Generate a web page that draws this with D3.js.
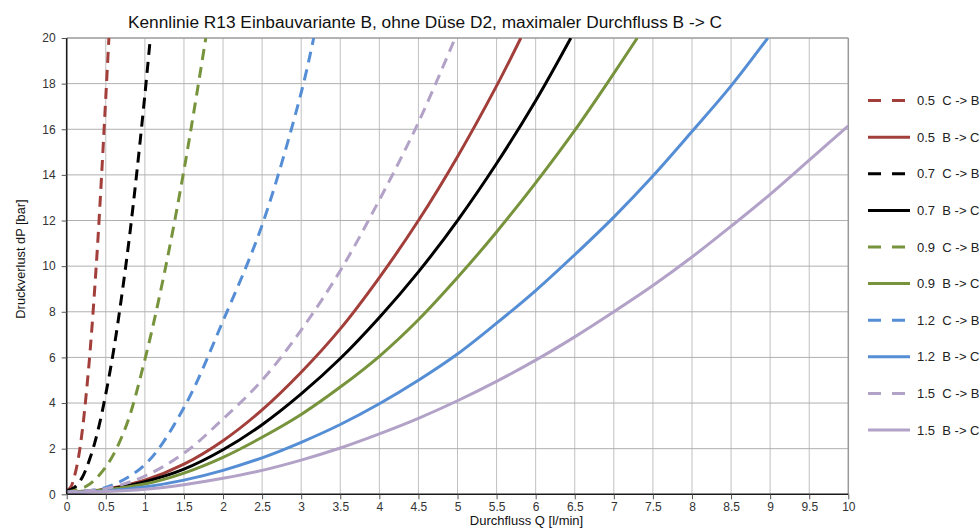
<!DOCTYPE html>
<html>
<head>
<meta charset="utf-8">
<script src="https://cdn.jsdelivr.net/npm/d3@7"></script>
<style>
  body { margin: 0; background: #fff; }
  svg { display: block; font-family: "Liberation Sans", Arial, sans-serif; }
</style>
</head>
<body>
<svg id="chart" width="980" height="528"></svg>
<script>
// ---- data ----
const chartTitle = "Kennlinie R13 Einbauvariante B, ohne Düse D2, maximaler Durchfluss B -> C";
const xLabel = "Durchfluss Q [l/min]";
const yLabel = "Druckverlust dP [bar]";
const xTicks = [0,0.5,1,1.5,2,2.5,3,3.5,4,4.5,5,5.5,6,6.5,7,7.5,8,8.5,9,9.5,10];
const yTicks = [0,2,4,6,8,10,12,14,16,18,20];

const seriesNames = ["0.5  C -> B","0.5  B -> C","0.7  C -> B","0.7  B -> C","0.9  C -> B","0.9  B -> C","1.2  C -> B","1.2  B -> C","1.5  C -> B","1.5  B -> C"];
const seriesDashed = [true,false,true,false,true,false,true,false,true,false];
const seriesColors = ["#A23F3B","#A23F3B","#000000","#000000","#77933C","#77933C","#558ED5","#558ED5","#B3A2C7","#B3A2C7"];

// 0.5 C -> B
const q05CB = [0,0.05,0.1,0.15,0.2,0.25,0.3,0.35,0.4,0.45,0.5,0.54];
const p05CB = [0.15,0.3,0.8,1.6,2.8,4.4,6.3,8.6,11.2,14.2,17.4,20];
// 0.5 B -> C
const q05BC = [0,0.5,1,1.5,2,2.5,3,3.5,4,4.5,5,5.5,5.81];
const p05BC = [0.1,0.22,0.62,1.32,2.35,3.7,5.35,7.25,9.5,12.0,14.8,17.9,20];
// 0.7 C -> B
const q07CB = [0,0.1,0.2,0.3,0.4,0.5,0.6,0.7,0.8,0.9,1.0,1.07];
const p07CB = [0.15,0.3,0.75,1.6,2.8,4.4,6.3,8.6,11.2,14.2,17.5,20];
// 0.7 B -> C
const q07BC = [0,0.5,1,1.5,2,2.5,3,3.5,4,4.5,5,5.5,6,6.45];
const p07BC = [0.1,0.2,0.55,1.1,1.95,3.05,4.4,5.95,7.75,9.75,12.0,14.5,17.25,20];
// 0.9 C -> B
const q09CB = [0,0.25,0.5,0.75,1.0,1.25,1.5,1.78];
const p09CB = [0.1,0.35,1.2,2.9,5.9,9.7,14.2,20];
// 0.9 B -> C
const q09BC = [0,0.5,1,1.5,2,2.5,3,3.5,4,4.5,5,5.5,6,6.5,7,7.3];
const p09BC = [0.1,0.2,0.45,0.93,1.62,2.5,3.5,4.7,6.05,7.65,9.5,11.5,13.65,15.95,18.45,20];
// 1.2 C -> B
const q12CB = [0,0.5,1,1.5,2,2.5,3,3.16];
const p12CB = [0.1,0.3,1.3,3.8,7.6,11.8,17.6,20];
// 1.2 B -> C
const q12BC = [0,0.5,1,1.5,2,2.5,3,3.5,4,4.5,5,5.5,6,6.5,7,7.5,8,8.5,8.97];
const p12BC = [0.08,0.15,0.32,0.62,1.05,1.6,2.28,3.06,3.97,5.0,6.15,7.5,8.93,10.5,12.15,13.95,15.9,17.9,20];
// 1.5 C -> B
const q15CB = [0,0.5,1,1.5,2,2.5,3,3.5,4,4.5,4.97];
const p15CB = [0.1,0.25,0.8,1.8,3.3,5.0,7.2,9.8,12.9,16.3,20];
// 1.5 B -> C
const q15BC = [0,0.5,1,1.5,2,2.5,3,3.5,4,4.5,5,5.5,6,6.5,7,7.5,8,8.5,9,9.5,10];
const p15BC = [0.08,0.12,0.22,0.42,0.7,1.05,1.5,2.03,2.65,3.33,4.1,4.95,5.88,6.9,8.0,9.15,10.4,11.75,13.15,14.65,16.15];

const seriesQ = [q05CB,q05BC,q07CB,q07BC,q09CB,q09BC,q12CB,q12BC,q15CB,q15BC];
const seriesP = [p05CB,p05BC,p07CB,p07BC,p09CB,p09BC,p12CB,p12BC,p15CB,p15BC];

// ---- drawing ----
(function draw() {
const svg = d3.select("#chart");
const pL = 66.7, pR = 848.3, pT = 38, pB = 494.3;
const x = d3.scaleLinear().domain([0,10]).range([pL,pR]);
const y = d3.scaleLinear().domain([0,20]).range([pB,pT]);

// grid
const grid = svg.append("g");
grid.selectAll("line.v").data(xTicks.filter(d => d > 0 && d < 10)).join("line")
  .attr("class", "v")
  .attr("x1", d => x(d)).attr("x2", d => x(d)).attr("y1", pT).attr("y2", pB)
  .attr("stroke", "#c0c0c0").attr("stroke-width", 1);
grid.selectAll("line.h").data(yTicks.filter(d => d > 0 && d < 20)).join("line")
  .attr("class", "h")
  .attr("x1", pL).attr("x2", pR).attr("y1", d => y(d)).attr("y2", d => y(d))
  .attr("stroke", "#b0b0b0").attr("stroke-width", 1);

// plot frame top/right
svg.append("line").attr("x1", pL).attr("x2", pR).attr("y1", pT).attr("y2", pT)
  .attr("stroke", "#9a9a9a").attr("stroke-width", 1.5);
svg.append("line").attr("x1", pR).attr("x2", pR).attr("y1", pT).attr("y2", pB)
  .attr("stroke", "#9a9a9a").attr("stroke-width", 1.5);

// clip
svg.append("defs").append("clipPath").attr("id", "clip")
  .append("rect").attr("x", pL).attr("y", pT).attr("width", pR - pL).attr("height", pB - pT);

const line = d3.line().x(d => x(d[0])).y(d => y(d[1])).curve(d3.curveCatmullRom.alpha(0.5));
const plot = svg.append("g").attr("clip-path", "url(#clip)");
seriesNames.forEach((name, i) => {
  const pts = seriesQ[i].map((q, j) => [q, seriesP[i][j]]);
  plot.append("path").datum(pts)
    .attr("d", line)
    .attr("fill", "none")
    .attr("stroke", seriesColors[i])
    .attr("stroke-width", 3)
    .attr("stroke-dasharray", seriesDashed[i] ? "11,7" : null);
});

// axes
const xAxis = d3.axisBottom(x).tickValues(xTicks).tickSize(5).tickFormat(d => String(d));
const yAxis = d3.axisLeft(y).tickValues(yTicks).tickSize(5).tickFormat(d => String(d));
const gx = svg.append("g").attr("transform", `translate(0,${pB})`).call(xAxis);
const gy = svg.append("g").attr("transform", `translate(${pL},0)`).call(yAxis);
[gx, gy].forEach(g => {
  g.select(".domain").attr("stroke", "#1a1a1a").attr("stroke-width", 1.6);
  g.selectAll(".tick line").attr("stroke", "#555");
  g.selectAll(".tick text").attr("fill", "#333").attr("font-size", 12)
    .attr("font-family", "'Liberation Sans', Arial, sans-serif");
});
gx.select(".domain").attr("d", `M${pL},0H${pR}`);
gy.select(".domain").attr("d", `M0,${pT}V${pB}`);
gx.selectAll(".tick text").attr("dy", "0.7em");
gy.selectAll(".tick text").attr("x", -11);

// title & labels
svg.append("text").attr("x", 425).attr("y", 28).attr("text-anchor", "middle")
  .attr("font-size", 17.3).attr("fill", "#111").text(chartTitle);
svg.append("text").attr("x", 526.5).attr("y", 525).attr("text-anchor", "middle")
  .attr("font-size", 13).attr("fill", "#111").text(xLabel);
svg.append("text").attr("transform", "translate(25,259) rotate(-90)").attr("text-anchor", "middle")
  .attr("font-size", 12.8).attr("fill", "#111").text(yLabel);

// legend
const lg = svg.append("g");
seriesNames.forEach((name, i) => {
  const ly = 100.6 + i * 36.6;
  lg.append("line").attr("x1", 868).attr("x2", 910).attr("y1", ly).attr("y2", ly)
    .attr("stroke", seriesColors[i]).attr("stroke-width", 3)
    .attr("stroke-dasharray", seriesDashed[i] ? "13,11" : null);
  lg.append("text").attr("x", 917).attr("y", ly).attr("dy", "0.36em")
    .attr("font-size", 13).attr("fill", "#222")
    .attr("xml:space", "preserve").style("white-space", "pre").text(name);
});
})();
</script>
</body>
</html>
